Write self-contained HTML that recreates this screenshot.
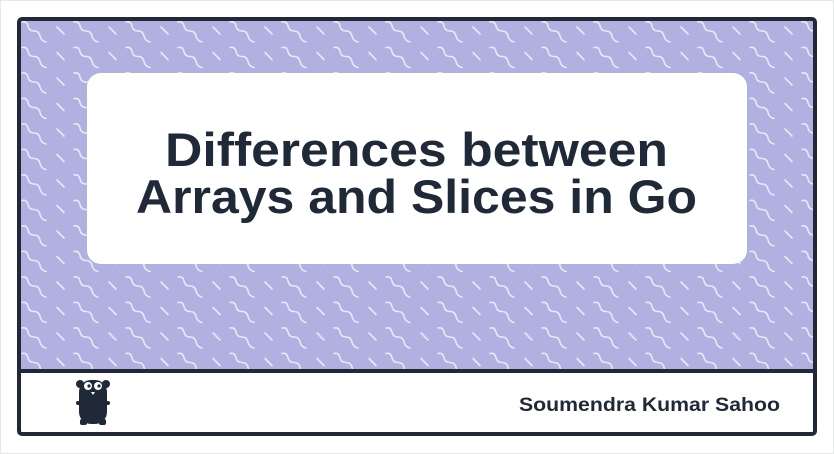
<!DOCTYPE html>
<html><head><meta charset="utf-8"><style>
html,body{margin:0;padding:0;width:834px;height:454px;overflow:hidden;background:#fff;font-family:"Liberation Sans",sans-serif}
.outer{position:absolute;left:0;top:0;width:832px;height:452px;border:1px solid #e5e7eb}
</style></head><body>
<div class="outer"></div>
<svg width="834" height="454" style="position:absolute;left:0;top:0">
<defs>
<pattern id="wv" x="20" y="20" width="52" height="25.5" patternUnits="userSpaceOnUse">
<rect width="52" height="25.5" fill="#b1b1e1"/>
<path d="M2 2 q5 -1 6 4 q1 5 6 5 q5 0 6 5 q1 5 6 6" fill="none" stroke="#e9e9f6" stroke-width="1.6" stroke-linecap="round"/>
<path d="M37 7 l7 7" stroke="#e9e9f6" stroke-width="1.6" stroke-linecap="round"/>
</pattern>
</defs>
<rect x="19" y="19" width="796" height="352" fill="url(#wv)"/>
<rect x="19" y="371" width="796" height="63" fill="#fff"/>
<rect x="19" y="19" width="796" height="415" rx="3" fill="none" stroke="#1f2937" stroke-width="4"/>
<line x1="19" y1="371" x2="815" y2="371" stroke="#1f2937" stroke-width="4"/>
<rect x="87" y="73" width="660" height="191" rx="14" fill="#fff"/>
<text x="165" y="166" textLength="503" lengthAdjust="spacingAndGlyphs" font-family="Liberation Sans, sans-serif" font-weight="bold" font-size="47" fill="#1f2937">Differences between</text>
<text x="136" y="213" textLength="561" lengthAdjust="spacingAndGlyphs" font-family="Liberation Sans, sans-serif" font-weight="bold" font-size="47" fill="#1f2937">Arrays and Slices in Go</text>
<text x="519" y="411" textLength="261" lengthAdjust="spacingAndGlyphs" font-family="Liberation Sans, sans-serif" font-weight="bold" font-size="19" fill="#1f2937">Soumendra Kumar Sahoo</text>
<g fill="#1f2937">
<circle cx="80" cy="384" r="4"/><circle cx="106" cy="384" r="4"/>
<rect x="79" y="380" width="28" height="44" rx="12"/>
<rect x="76" y="401" width="5" height="4" rx="2"/><rect x="105" y="401" width="5" height="4" rx="2"/>
<rect x="80" y="419" width="7" height="6" rx="2"/><rect x="99" y="419" width="7" height="6" rx="2"/>
<circle cx="88" cy="386" r="4" fill="#fff"/><circle cx="98" cy="386" r="4" fill="#fff"/>
<circle cx="89" cy="386" r="1.6"/><circle cx="99" cy="386" r="1.6"/>
<path d="M91 392 h4 l-2 3 z" fill="#fff"/>
</g>
</svg>
</body></html>
